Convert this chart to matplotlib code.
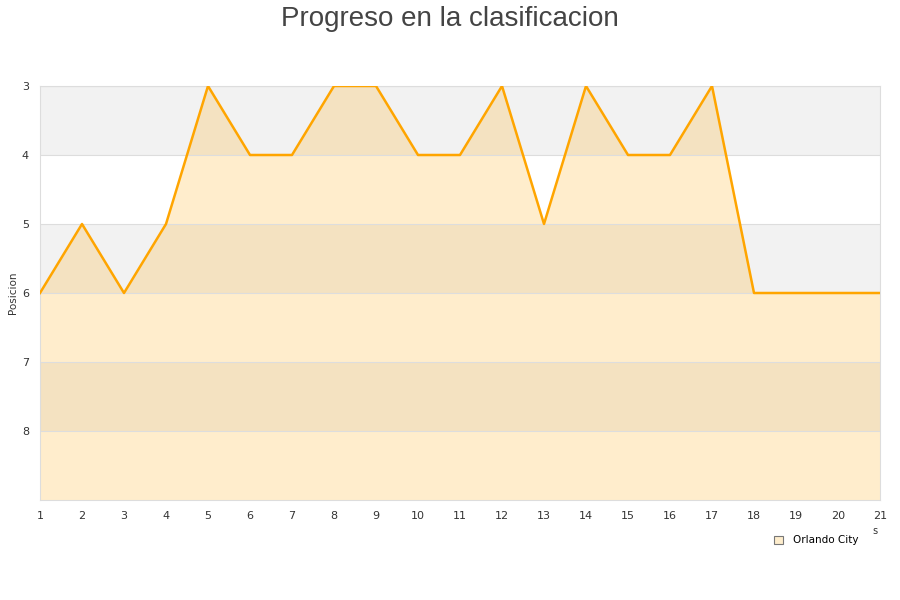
import matplotlib.pyplot as plt
import numpy as np

jornadas = list(range(1, 22))
posicion = [6, 5, 6, 5, 3, 4, 4, 3, 3, 4, 4, 3, 5, 3, 4, 4, 3, 6, 6, 6, 6]
equipo = "Orlando City"

fig = plt.figure(figsize=(9, 6), dpi=100)
ax = fig.add_axes([40 / 900, 1 - 500 / 600, 840 / 900, 414 / 600])

# alternating bands
for lo in (3, 5, 7):
    ax.axhspan(lo, lo + 1, color="#f2f2f2", zorder=0, lw=0)

ax.fill_between(jornadas, posicion, 9, color="#ffa500", alpha=0.2, lw=0, zorder=1)
ax.plot(jornadas, posicion, color="#ffa500", lw=1.8, zorder=3)

ax.set_xlim(1, 21)
ax.set_ylim(9, 3)
ax.set_xticks(jornadas)
ax.set_yticks([3, 4, 5, 6, 7, 8])
ax.grid(axis="y", color="#dddddd", lw=0.8, zorder=2)
ax.set_axisbelow(False)
for s in ax.spines.values():
    s.set_color("#dddddd")
ax.tick_params(length=0, labelsize=8, colors="#333333", pad=8)
ax.tick_params(axis="y", pad=8)
ax.set_ylabel("Posicion", fontsize=7.5, color="#333333")
ax.yaxis.set_label_coords(-22 / 840, 0.5)

fig.text(0.5, 0.99, "Progreso en la clasificacion", ha="center", va="top",
         fontsize=20, color="#444444", family="Liberation Sans")
fig.text(875 / 900, 1 - 531 / 600, "s", ha="center", va="center",
         fontsize=7, color="#333333")

ax.legend([plt.Rectangle((0, 0), 1, 1, fc="#feedcc", ec="#777777", lw=0.8)],
          [equipo], loc="upper left", bbox_to_anchor=(765 / 900, 1 - 526 / 600),
          bbox_transform=fig.transFigure, frameon=False, fontsize=7.5,
          handlelength=0.8, handleheight=0.8, handletextpad=1.0)

fig.savefig("out.png")
